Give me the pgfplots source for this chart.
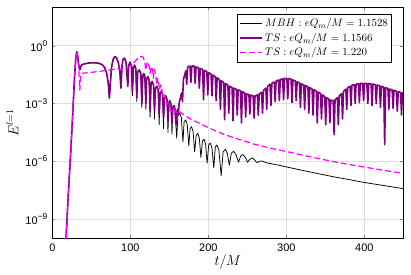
\documentclass[border=0pt]{standalone}
\usepackage[no-math]{fontspec}
\usepackage{pgfplots}
\pgfplotsset{compat=1.18}
\newfontfamily\tickfont{Liberation Sans}
\definecolor{tspurple}{RGB}{128,0,128}
\definecolor{tsmagenta}{RGB}{255,0,255}
\newcommand{\tp}[1]{10\raisebox{0.42em}{\fontsize{8.5}{9}\selectfont #1}}
\begin{document}
\begin{tikzpicture}
\begin{axis}[
  scale only axis, width=351bp, height=231bp,
  xmin=0, xmax=450, ymin=-10, ymax=2,
  xtick={0,100,200,300,400},
  ytick={-9,-6,-3,0},
  yticklabels={\tp{−9},\tp{−6},\tp{−3},\tp{0}},
  /pgf/number format/assume math mode=true,
  tick label style={font=\tickfont\fontsize{11}{12}\selectfont},
  xticklabel style={yshift=-2bp},
  yticklabel style={xshift=-1.5bp},
  tick pos=both, tick align=inside, major tick length=3bp,
  grid=major, major grid style={black!13, line width=0.6bp},
  axis line style={black, line width=0.8bp},
  xlabel={$t/M$}, ylabel={$E^{l=1}$},
  label style={font=\fontsize{14}{16}\selectfont},
  xlabel style={at={(axis description cs:0.5,-0.101)}, anchor=center},
  ylabel style={at={(axis description cs:-0.114,0.5)}, anchor=center},
  legend cell align=left,
  legend style={at={(0.967,0.971)}, anchor=north east, draw=black, line width=0.6bp,
    font=\fontsize{11.2}{13}\selectfont, inner xsep=1.5bp, inner ysep=2.5bp, row sep=0.8bp},
  legend image code/.code={\draw[#1] plot coordinates {(0cm,0cm) (0.8cm,0cm)};},
  line join=round,
]
% MBH: eQ_m/M = 1.1528  (y = log10 E)
\addplot[black, line width=0.75bp] coordinates {
(17.0,-10.5)(20,-8.1)(23.5,-5.6)(26.5,-3.3)(28.5,-1.6)(30,-0.7)(31.3,-0.31)(32.5,-0.5)(33.7,-0.95)(35.2,-1.25)(36.5,-1.1)(38,-0.98)(42,-0.93)(48,-0.89)(54,-0.88)(60,-0.91)(64,-0.98)(67,-1.12)(69.5,-1.4)(71.5,-1.85)(73.2,-2.72)(74.5,-1.9)(76,-1.1)(78,-0.7)(80,-0.56)(82,-0.6)(84.5,-0.85)(86.5,-1.3)(88,-2.2)(89.3,-1.1)(90.5,-0.72)(92.5,-0.64)(94.5,-0.85)(96.8,-2.1)(98,-1.0)(99.7,-0.85)
(101.5,-1.05)(102.7,-2.6)(103.9,-1.15)(105.5,-1.0)(107.1,-1.2)(108.3,-2.9)(109.5,-1.35)(111.5,-1.25)(113.5,-1.45)(114.8,-3.2)(116,-1.55)(117.3,-1.45)(118.7,-1.6)(119.9,-3.3)(121,-1.72)(122.6,-1.6)(124.2,-1.8)(125.4,-3.7)(126.6,-1.95)(128.2,-1.85)(129.8,-2.05)(131,-3.8)(132.2,-2.2)(134,-2.1)(135.8,-2.3)(137,-4.1)(138.2,-2.45)(139.8,-2.35)(141.4,-2.55)(142.6,-4.3)(143.8,-2.7)(145.5,-2.6)(147.1,-2.8)(148.3,-4.5)(149.5,-2.95)(150.8,-2.85)(152.2,-3.05)(153.4,-4.6)(154.6,-3.2)(156,-3.1)(157.3,-3.3)
(159.5,-4.8)(161,-3.65)(163.5,-3.5)(165.5,-3.75)(167.5,-5.0)(169,-3.95)(171,-3.85)(173,-4.1)(175,-5.2)(176.7,-4.3)(178.5,-4.2)(180.5,-4.45)(182.5,-5.5)(184.5,-4.65)(186.5,-4.55)(188.5,-4.8)(190.5,-5.8)(192.5,-4.95)(194.5,-4.85)(196.5,-5.1)(198.5,-6.1)(200.5,-5.15)(202.5,-5.05)(204.7,-5.3)(207,-6.35)(209,-5.25)(211,-5.15)(213.5,-5.4)(216.5,-6.75)(219,-5.5)(222,-5.38)(224.5,-5.6)(227,-6.2)(229.5,-5.58)(232.4,-5.48)(235.5,-5.65)(238.8,-6.05)(241.5,-5.72)(244.4,-5.65)(247.5,-5.8)(250.3,-6.05)(253.5,-5.88)(257,-5.83)(259.8,-5.95)(262.4,-6.07)(265.5,-6.0)(268.8,-5.98)(272,-6.04)(275,-6.08)(290,-6.2)(301,-6.3)(330,-6.55)(360,-6.8)(378,-6.93)(400,-7.1)(425,-7.26)(450,-7.42)
};
\addlegendentry{$MBH: eQ_m/M = 1.1528$}
% TS: eQ_m/M = 1.1566
\addplot[tspurple, line width=1.6bp] coordinates {
(17.0,-10.5)(20,-8.1)(23.5,-5.6)(26.5,-3.3)(28.5,-1.6)(30,-0.7)(31.3,-0.31)(32.5,-0.5)(33.7,-0.95)(35.2,-1.25)(36.5,-1.1)(38,-0.98)(42,-0.93)(48,-0.89)(54,-0.88)(60,-0.91)(64,-0.98)(67,-1.12)(69.5,-1.4)(71.5,-1.85)(73.2,-2.72)(74.5,-1.9)(76,-1.1)(78,-0.7)(80,-0.56)(82,-0.6)(84.5,-0.85)(86.5,-1.3)(88,-2.2)(89.3,-1.1)(90.5,-0.72)(92.5,-0.64)(94.5,-0.85)(96.8,-2.1)(98,-1.0)(99.7,-0.85)
(101.5,-1.05)(102.7,-2.4)(103.9,-1.15)(105.5,-1.0)(107.1,-1.2)(108.3,-2.7)(109.5,-1.35)(111.5,-1.25)(113.5,-1.45)(114.8,-3.0)(116,-1.55)(117.3,-1.45)(118.7,-1.6)(119.9,-3.0)(121,-1.72)(122.6,-1.6)(124.2,-1.8)(125.4,-3.4)(126.6,-1.95)(128.2,-1.85)(129.8,-2.05)(131,-3.3)(132.2,-2.2)(134,-2.1)(135.8,-2.3)(137,-3.6)(138.2,-2.45)(139.8,-2.35)(141.4,-2.55)(142.6,-3.7)(143.8,-2.7)(145.5,-2.6)(147.1,-2.8)(148.3,-3.9)(149.5,-2.95)(150.8,-2.85)(152.2,-3.05)(153.4,-4.0)(154.6,-3.2)(156,-3.1)(157.3,-3.3)(158.5,-4.1)(159.8,-3.4)(160.7,-3.3)
(161.5,-3.6)(162.7,-2.95)(165.7,-2.45)
(166.9,-2.9)(168.1,-1.75)(171.1,-1.3)
(172.3,-2.0)(173.5,-1.1)(176.5,-1.05)
(177.7,-1.9)(178.9,-1.05)(181.9,-1.05)
(183.1,-1.95)(184.3,-1.1)(187.3,-1.13)
(188.5,-2.2)(189.7,-1.18)(192.7,-1.23)
(193.9,-2.8)(195.1,-1.28)(198.1,-1.33)
(199.3,-2.55)(200.5,-1.4)(203.5,-1.47)
(204.7,-2.6)(205.9,-1.52)(208.9,-1.6)
(210.1,-2.85)(211.3,-1.66)(214.3,-1.76)
(215.5,-3.3)(216.7,-1.82)(219.7,-1.9)
(220.9,-3.84)(222.1,-1.96)(225.1,-2.04)
(226.3,-3.5)(227.5,-2.1)(230.5,-2.17)
(231.7,-3.9)(232.9,-2.2)(235.9,-2.26)
(237.1,-3.6)(238.3,-2.29)(241.3,-2.34)
(242.5,-4.0)(243.7,-2.38)(246.7,-2.45)
(247.9,-3.7)(249.1,-2.5)(252.1,-2.53)
(253.3,-3.55)(254.5,-2.56)(257.5,-2.6)
(258.7,-3.76)(259.9,-2.6)(262.9,-2.55)
(264.1,-3.6)(265.3,-2.5)(268.3,-2.42)
(269.5,-3.5)(270.7,-2.33)(273.7,-2.2)
(274.9,-3.3)(276.1,-2.1)(279.1,-2.0)
(280.3,-3.1)(281.5,-1.95)(284.5,-1.88)
(285.7,-2.9)(286.9,-1.83)(289.9,-1.78)
(291.1,-2.85)(292.3,-1.75)(295.3,-1.72)
(296.5,-2.8)(297.7,-1.7)(300.7,-1.7)
(301.9,-2.75)(303.1,-1.7)(306.1,-1.73)
(307.3,-2.95)(308.5,-1.77)(311.5,-1.83)
(312.7,-2.85)(313.9,-1.87)(316.9,-1.93)
(318.1,-3.2)(319.3,-1.98)(322.3,-2.03)
(323.5,-3.3)(324.7,-2.07)(327.7,-2.13)
(328.9,-3.5)(330.1,-2.17)(333.1,-2.25)
(334.3,-3.6)(335.5,-2.28)(338.5,-2.36)
(339.7,-4.0)(340.9,-2.4)(343.9,-2.48)
(345.1,-3.8)(346.3,-2.55)(349.3,-2.64)
(350.5,-4.1)(351.7,-2.7)(354.7,-2.77)
(355.9,-4.0)(357.1,-2.82)(360.1,-2.85)
(361.3,-4.62)(362.5,-2.8)(365.5,-2.7)
(366.7,-4.1)(367.9,-2.6)(370.9,-2.48)
(372.1,-3.8)(373.3,-2.37)(376.3,-2.25)
(377.5,-3.3)(378.7,-2.18)(381.7,-2.1)
(382.9,-3.1)(384.1,-2.05)(387.1,-2.02)
(388.3,-3.0)(389.5,-1.99)(392.5,-1.97)
(393.7,-2.95)(394.9,-1.96)(397.9,-1.95)
(399.1,-2.85)(400.3,-1.95)(403.3,-1.95)
(404.5,-3.0)(405.7,-1.96)(408.7,-1.98)
(409.9,-3.1)(411.1,-1.99)(414.1,-2.02)
(415.3,-3.0)(416.5,-2.04)(419.5,-2.07)
(420.7,-3.2)(421.9,-2.1)(424.9,-2.15)
(426.1,-5.14)(427.3,-2.18)(430.3,-2.22)
(431.5,-3.3)(432.7,-2.25)(435.7,-2.29)
(436.9,-3.25)(438.1,-2.31)(441.1,-2.36)
(442.3,-3.4)(443.5,-2.38)(446.5,-2.42)
(447.7,-3.58)(448.9,-2.45)(451,-2.47)
};
\addlegendentry{$TS: eQ_m/M = 1.1566$}
% TS: eQ_m/M = 1.220
\addplot[tsmagenta, line width=1.2bp, dash pattern=on 6bp off 3bp] coordinates {
(17.0,-10.5)(20,-8.1)(23.5,-5.6)(26.5,-3.3)(28.5,-1.6)(30,-0.7)(31.3,-0.31)(32.5,-0.5)(33.8,-1.1)(35.3,-2.3)(36.3,-1.6)(37.7,-1.43)(50,-1.38)(60,-1.33)(70,-1.27)(80,-1.22)(90,-1.16)(97.6,-1.12)(100,-1.05)(104,-0.9)(108,-0.72)(111,-0.6)(114,-0.55)(116.5,-0.6)(118.5,-0.85)(119.9,-1.26)(121,-0.95)(122.4,-0.83)(123.8,-1.0)(125.4,-1.43)(126.5,-1.15)(127.6,-1.09)(128.7,-1.3)(129.7,-1.69)(130.4,-1.35)(131,-1.22)(132.5,-1.5)(134,-2.03)(134.7,-1.8)(135.3,-1.69)(136.3,-1.9)(137.4,-2.29)(138.5,-2.1)(139.5,-2.03)(140.4,-2.25)(141.2,-2.64)(142.5,-2.55)(143.8,-2.55)(145.3,-2.8)(146.8,-3.07)(147.8,-2.98)(148.6,-2.98)(150.5,-3.2)(152.4,-3.41)(154,-3.27)(155.3,-3.24)(157.5,-3.38)(159.7,-3.5)(162,-3.42)(164,-3.45)(170,-3.62)(175,-3.75)(182,-3.9)(190,-4.05)(200,-4.25)(211,-4.45)(220,-4.6)(228,-4.71)(241,-4.88)(258,-5.1)(280,-5.32)(301,-5.5)(325,-5.72)(350,-5.93)(378,-6.15)(400,-6.3)(425,-6.47)(450,-6.63)
};
\addlegendentry{$TS: eQ_m/M = 1.220$}
\end{axis}
\pgfresetboundingbox
\path[use as bounding box] (current axis.south west) ++(-52.3bp,-35.7bp) rectangle ([xshift=7.7bp,yshift=7.3bp]current axis.north east);
\end{tikzpicture}
\end{document}
